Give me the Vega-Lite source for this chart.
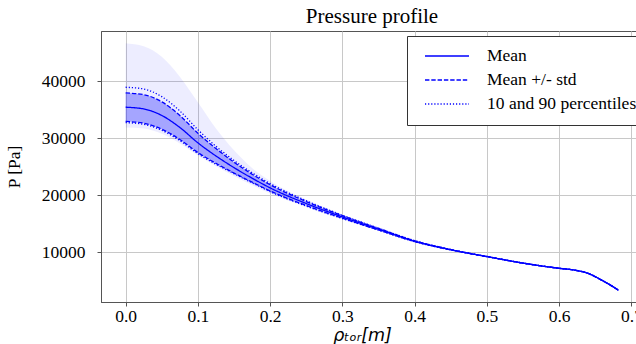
{
  "$schema": "https://vega.github.io/schema/vega-lite/v6.json",
  "autosize": {"type": "none"},
  "padding": {"left": 101, "top": 31, "right": 0, "bottom": 42},
  "width": 542,
  "height": 271,
  "background": "white",
  "title": {
    "text": "Pressure profile",
    "font": "Liberation Serif",
    "fontSize": 21,
    "fontWeight": "normal",
    "color": "#000",
    "anchor": "middle",
    "frame": "group",
    "baseline": "top",
    "offset": 4
  },
  "config": {
    "view": {"stroke": "#555", "strokeWidth": 1},
    "axis": {
      "domainColor": "#555",
      "tickColor": "#555",
      "gridColor": "#c8c8c8",
      "gridWidth": 1,
      "tickSize": 4,
      "labelFont": "Liberation Serif",
      "labelFontSize": 17.5,
      "labelColor": "#000",
      "titleColor": "#000",
      "titleFontWeight": "normal"
    }
  },
  "data": {
    "values": [
      {"x": 0.0, "mean": 35450, "sd_hi": 37950, "sd_lo": 32950, "p90": 38950, "p10": 32750, "max": 46660, "min": 31900},
      {"x": 0.025, "mean": 35150, "sd_hi": 37650, "sd_lo": 32650, "p90": 38650, "p10": 32450, "max": 46150, "min": 31700},
      {"x": 0.05, "mean": 34000, "sd_hi": 36400, "sd_lo": 31600, "p90": 37300, "p10": 31400, "max": 44300, "min": 30800},
      {"x": 0.075, "mean": 31900, "sd_hi": 34000, "sd_lo": 29800, "p90": 34800, "p10": 29600, "max": 40800, "min": 29100},
      {"x": 0.1, "mean": 29200, "sd_hi": 30900, "sd_lo": 27500, "p90": 31500, "p10": 27300, "max": 36300, "min": 27000},
      {"x": 0.125, "mean": 26900, "sd_hi": 28200, "sd_lo": 25600, "p90": 28600, "p10": 25450, "max": 31700, "min": 25100},
      {"x": 0.15, "mean": 24850, "sd_hi": 25800, "sd_lo": 23900, "p90": 26100, "p10": 23800, "max": 27900, "min": 23400},
      {"x": 0.175, "mean": 23000, "sd_hi": 23700, "sd_lo": 22300, "p90": 23950, "p10": 22200, "max": 24800, "min": 21800},
      {"x": 0.2, "mean": 21300, "sd_hi": 21850, "sd_lo": 20750, "p90": 22050, "p10": 20650, "max": 22500, "min": 20300},
      {"x": 0.25, "mean": 18550, "sd_hi": 18900, "sd_lo": 18200, "p90": 19050, "p10": 18100, "max": 19250, "min": 17900},
      {"x": 0.3, "mean": 16200, "sd_hi": 16420, "sd_lo": 15980, "p90": 16500, "p10": 15920, "max": 16650, "min": 15780},
      {"x": 0.35, "mean": 14050, "sd_hi": 14180, "sd_lo": 13920, "p90": 14230, "p10": 13880, "max": 14300, "min": 13800},
      {"x": 0.4, "mean": 11950, "sd_hi": 12020, "sd_lo": 11880, "p90": 12050, "p10": 11860, "max": 12100, "min": 11820},
      {"x": 0.45, "mean": 10450, "sd_hi": 10480, "sd_lo": 10420, "p90": 10490, "p10": 10410, "max": 10510, "min": 10390},
      {"x": 0.5, "mean": 9250, "sd_hi": 9260, "sd_lo": 9240, "p90": 9265, "p10": 9235, "max": 9270, "min": 9230},
      {"x": 0.55, "mean": 8100, "sd_hi": 8100, "sd_lo": 8100, "p90": 8100, "p10": 8100, "max": 8100, "min": 8100},
      {"x": 0.6, "mean": 7190, "sd_hi": 7190, "sd_lo": 7190, "p90": 7190, "p10": 7190, "max": 7190, "min": 7190},
      {"x": 0.62, "mean": 6900, "sd_hi": 6900, "sd_lo": 6900, "p90": 6900, "p10": 6900, "max": 6900, "min": 6900},
      {"x": 0.64, "mean": 6300, "sd_hi": 6300, "sd_lo": 6300, "p90": 6300, "p10": 6300, "max": 6300, "min": 6300},
      {"x": 0.66, "mean": 5030, "sd_hi": 5030, "sd_lo": 5030, "p90": 5030, "p10": 5030, "max": 5030, "min": 5030},
      {"x": 0.672, "mean": 4160, "sd_hi": 4160, "sd_lo": 4160, "p90": 4160, "p10": 4160, "max": 4160, "min": 4160},
      {"x": 0.682, "mean": 3340, "sd_hi": 3340, "sd_lo": 3340, "p90": 3340, "p10": 3340, "max": 3340, "min": 3340}
    ]
  },
  "encoding": {
    "x": {
      "field": "x",
      "type": "quantitative",
      "scale": {"domain": [-0.0341, 0.716], "nice": false, "zero": false},
      "axis": {
        "values": [0, 0.1, 0.2, 0.3, 0.4, 0.5, 0.6, 0.7],
        "format": ".1f",
        "labelPadding": 1,
        "title": "ρₜₒᵣ[m]",
        "titleFont": "DejaVu Sans",
        "titleFontStyle": "italic",
        "titleFontSize": 17.5,
        "titlePadding": 2,
        "titleX": 261
      }
    }
  },
  "layer": [
    {
      "mark": {"type": "area", "color": "#0000ff", "fillOpacity": 0.07, "interpolate": "monotone"},
      "encoding": {
        "y": {
          "field": "max",
          "type": "quantitative",
          "scale": {"domain": [1280, 48820], "nice": false, "zero": false},
          "axis": {
            "values": [10000, 20000, 30000, 40000],
            "format": "d",
            "labelPadding": 12,
            "title": "P [Pa]",
            "titleFont": "Liberation Serif",
            "titleFontSize": 17.5,
            "titlePadding": 18
          }
        },
        "y2": {"field": "min"}
      }
    },
    {
      "mark": {"type": "area", "color": "#0000ff", "fillOpacity": 0.3, "interpolate": "monotone"},
      "encoding": {
        "y": {"field": "sd_hi", "type": "quantitative"},
        "y2": {"field": "sd_lo"}
      }
    },
    {
      "mark": {"type": "line", "color": "#0000ff", "strokeWidth": 1.3, "interpolate": "monotone"},
      "encoding": {
        "y": {"field": "mean", "type": "quantitative"},
        "strokeDash": {
          "datum": "Mean",
          "type": "nominal",
          "scale": {
            "domain": ["Mean", "Mean +/- std", "10 and 90 percentiles"],
            "range": [[1, 0], [4.4, 1.9], [1.2, 1.9]]
          },
          "legend": {
            "title": null,
            "orient": "none",
            "legendX": 306,
            "legendY": 5,
            "padding": 12,
            "fillColor": "white",
            "strokeColor": "#333",
            "cornerRadius": 0,
            "symbolType": "stroke",
            "symbolSize": 1936,
            "symbolStrokeColor": "#0000ff",
            "symbolStrokeWidth": 1.3,
            "symbolOffset": 5,
            "clipHeight": 16,
            "rowPadding": 6,
            "labelFont": "Liberation Serif",
            "labelFontSize": 17.5,
            "labelColor": "#000",
            "labelOffset": 17,
            "labelLimit": 400
          }
        }
      }
    },
    {
      "mark": {"type": "line", "color": "#0000ff", "strokeWidth": 1.3, "interpolate": "monotone"},
      "encoding": {
        "y": {"field": "sd_hi", "type": "quantitative"},
        "strokeDash": {"datum": "Mean +/- std", "type": "nominal"}
      }
    },
    {
      "mark": {"type": "line", "color": "#0000ff", "strokeWidth": 1.3, "interpolate": "monotone"},
      "encoding": {
        "y": {"field": "sd_lo", "type": "quantitative"},
        "strokeDash": {"datum": "Mean +/- std", "type": "nominal"}
      }
    },
    {
      "mark": {"type": "line", "color": "#0000ff", "strokeWidth": 1.3, "interpolate": "monotone"},
      "encoding": {
        "y": {"field": "p90", "type": "quantitative"},
        "strokeDash": {"datum": "10 and 90 percentiles", "type": "nominal"}
      }
    },
    {
      "mark": {"type": "line", "color": "#0000ff", "strokeWidth": 1.3, "interpolate": "monotone"},
      "encoding": {
        "y": {"field": "p10", "type": "quantitative"},
        "strokeDash": {"datum": "10 and 90 percentiles", "type": "nominal"}
      }
    }
  ]
}
